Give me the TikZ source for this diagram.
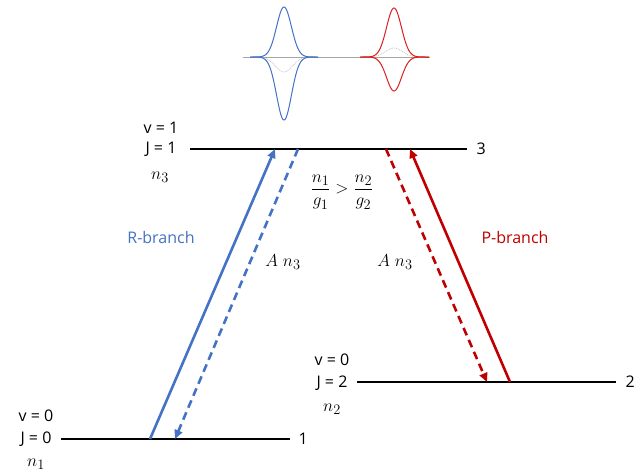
\documentclass[tikz,border=0pt]{standalone}
\usepackage{amsmath}
\usepackage{fontspec}
\setmainfont{Open Sans}
\usetikzlibrary{arrows.meta}
\definecolor{azul}{RGB}{68,114,196}
\definecolor{rojo}{RGB}{192,0,0}
\definecolor{rojop}{RGB}{220,30,30}
\tikzset{
  nivel/.style={line width=1.2pt},
  trans/.style={line width=2.6pt, -{Triangle[length=9pt,width=8pt]}},
  emis/.style={trans, dash pattern=on 8pt off 5pt},
  etiq/.style={font=\fontsize{16}{19}\selectfont, inner sep=0pt},
  mate/.style={font=\fontsize{19}{23}\selectfont, inner sep=0pt},
}
\begin{document}
\begin{tikzpicture}[x=1pt,y=-1pt]
    \useasboundingbox (0,0) rectangle (644,475);
    % Niveles
    \coordinate (a3) at (190,149);
    \coordinate (b3) at (467,149);
    \coordinate (a1) at (61,439);
    \coordinate (b1) at (290,439);
    \coordinate (a2) at (357,382);
    \coordinate (b2) at (616,382);
    \draw[nivel] (a3) -- (b3) node[etiq, right=9pt] (e3) {3};
    \draw[nivel] (a1) -- (b1) node[etiq, right=8pt] (e1) {1};
    \draw[nivel] (a2) -- (b2) node[etiq, right=9pt] (e2) {2};

    % Numeros cuanticos
    \node[etiq] (v3) at (161,128) {v = 1};
    \node[etiq] (j3) at (161,149) {J = 1};
    \node[mate] (n3) at (160,177) {$n_3$};
    \node[etiq] (v1) at (36,416) {v = 0};
    \node[etiq] (j1) at (36,439) {J = 0};
    \node[mate] (n1) at (36,464) {$n_1$};
    \node[etiq] (v2) at (332,360) {v = 0};
    \node[etiq] (j2) at (332,383) {J = 2};
    \node[mate] (n2) at (332,409) {$n_2$};

    % Transiciones
    \coordinate (r1) at (150,439);
    \coordinate (r3) at (275,149);
    \coordinate (s3) at (298,149);
    \coordinate (s1) at (175,439);
    \coordinate (p3) at (386,149);
    \coordinate (p2) at (487,382);
    \coordinate (q2) at (510,382);
    \coordinate (q3) at (410,149);
    \draw[trans, azul] (r1) -- (r3);
    \draw[emis, azul] (s3) -- (s1);
    \draw[emis, rojo] (p3) -- (p2);
    \draw[trans, rojo] (q2) -- (q3);

    \node[etiq, text=azul] (rb) at (161,237) {R-branch};
    \node[etiq, text=rojo] (pb) at (515,237) {P-branch};
    \node[mate] (an1) at (283,262) {$A\;n_3$};
    \node[mate] (an2) at (395,262) {$A\;n_3$};
    \node[mate] (cond) at (342,192) {$\dfrac{n_1}{g_1} > \dfrac{n_2}{g_2}$};

    % Pulsos
    \draw[gray!70, line width=0.8pt] (243,57) -- (430,57);
    \draw[gray!50, densely dotted, line width=0.8pt]
        plot[domain=255:313, samples=60] (\x,{57+15*exp(-((\x-284)/12)^2)});
    \draw[gray!50, densely dotted, line width=0.8pt]
        plot[domain=362:428, samples=60] (\x,{57-9*exp(-((\x-394)/12)^2)});
    \draw[azul, line width=1pt]
        plot[domain=250:318, samples=80] (\x,{57-50*exp(-((\x-284)/10.5)^2)});
    \draw[azul, line width=1pt]
        plot[domain=250:318, samples=80] (\x,{57+63*exp(-((\x-284)/10.5)^2)});
    \draw[rojop, line width=1pt]
        plot[domain=360:429, samples=80] (\x,{57-49*exp(-((\x-394)/10.5)^2)});
    \draw[rojop, line width=1pt]
        plot[domain=360:429, samples=80] (\x,{57+34*exp(-((\x-394)/10.5)^2)});
\end{tikzpicture}
\end{document}
